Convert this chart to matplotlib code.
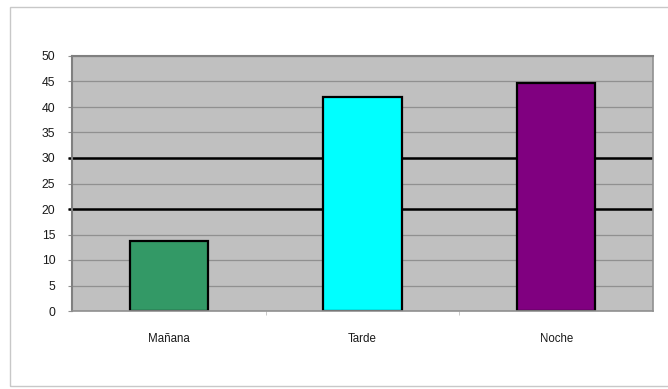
import matplotlib
matplotlib.use('Agg')
import matplotlib.pyplot as plt
from matplotlib.patches import Rectangle
import numpy as np

plt.rcParams['font.family'] = ['Liberation Sans', 'DejaVu Sans']

# turnos y valores
categorias = ['Mañana', 'Tarde', 'Noche']
valores = [13.7, 42.0, 44.7]
colores = ['#339966', '#00FFFF', '#800080']
lineas_ref = [20, 30]

fig = plt.figure(figsize=(6.68, 3.89), dpi=100)
# marco exterior del grafico
fig.patches.append(Rectangle((10 / 668, 1 - 386 / 389), 1.2, 379 / 389,
                             transform=fig.transFigure, fill=False,
                             edgecolor='#c8c8c8', linewidth=1.0))

ax = fig.add_axes([72 / 668, 1 - 311 / 389, (653 - 72) / 668, (311 - 56) / 389])
ax.set_facecolor('#C0C0C0')

x = np.arange(len(categorias))
ax.set_axisbelow(True)
ax.yaxis.grid(True, color='#909090', linewidth=0.9)
for y in lineas_ref:
    ax.axhline(y, color='black', linewidth=1.8, zorder=1.5)
    ax.plot([-0.52, -0.5], [y, y], color='black', linewidth=1.8,
            clip_on=False, solid_capstyle='butt')

ax.bar(x, valores, width=0.405, color=colores, edgecolor='black',
       linewidth=1.6, zorder=2)

ax.set_xlim(-0.5, 2.5)
ax.set_ylim(0, 50)
ax.set_yticks(np.arange(0, 51, 5))
ax.set_xticks(x)
ax.set_xticklabels(categorias, fontsize=8.3, color='#1a1a1a')
ax.tick_params(axis='x', length=0, pad=16)
ax.tick_params(axis='y', length=3, color='#909090', labelsize=8.8,
               labelcolor='#1a1a1a', pad=9)
# marcas entre categorias
ax.set_xticks([0.5, 1.5], minor=True)
ax.tick_params(axis='x', which='minor', length=3, color='#c0c0c0')

for lado in ['top', 'left']:
    ax.spines[lado].set_color('#808080')
    ax.spines[lado].set_linewidth(1.5)
for lado in ['bottom', 'right']:
    ax.spines[lado].set_color('#909090')
    ax.spines[lado].set_linewidth(1.2)

fig.savefig('out.png', dpi=100)
